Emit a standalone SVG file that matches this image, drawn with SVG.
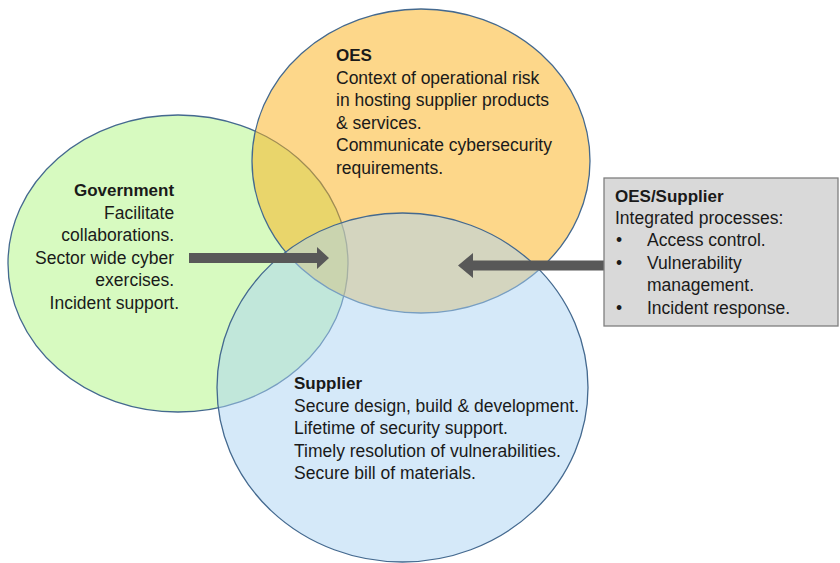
<svg xmlns="http://www.w3.org/2000/svg" width="840" height="563" viewBox="0 0 840 563">
  <style>
    .circle { stroke: #44698f; stroke-width: 1.3; fill-opacity: 0.5; }
    .txt { font-family: "Liberation Sans", Arial, sans-serif; font-size: 17.5px; fill: #1a1a1a; }
    .hd { font-weight: bold; font-size: 17px; }
    .arrow { fill: #585858; }
    .box { fill: #d9d9d9; stroke: #7f7f7f; stroke-width: 1.3; }
  </style>
  <rect width="840" height="563" fill="#ffffff"/>

  <!-- Government -->
  <g id="government">
    <ellipse class="circle" cx="178" cy="263.5" rx="170" ry="148.5" fill="#aff581"/>
    <text class="txt" text-anchor="end">
      <tspan class="hd" x="179" y="196">Government</tspan>
      <tspan x="179" y="218.6">Facilitate</tspan>
      <tspan x="179" y="241.2">collaborations.</tspan>
      <tspan x="179" y="263.8">Sector wide cyber</tspan>
      <tspan x="179" y="286.4">exercises.</tspan>
      <tspan x="179" y="309">Incident support.</tspan>
    </text>
  </g>

  <!-- OES -->
  <g id="oes">
    <ellipse class="circle" cx="421" cy="161" rx="169" ry="152" fill="#fbaf15"/>
    <text class="txt">
      <tspan class="hd" x="336" y="61">OES</tspan>
      <tspan x="336" y="83.5">Context of operational risk</tspan>
      <tspan x="336" y="106">in hosting supplier products</tspan>
      <tspan x="336" y="128.5">&amp; services.</tspan>
      <tspan x="336" y="151">Communicate cybersecurity</tspan>
      <tspan x="336" y="173.5">requirements.</tspan>
    </text>
  </g>

  <!-- Supplier -->
  <g id="supplier">
    <ellipse class="circle" cx="402.5" cy="387.5" rx="185.5" ry="174.5" fill="#abd3f3"/>
    <text class="txt">
      <tspan class="hd" x="294" y="389">Supplier</tspan>
      <tspan x="294" y="411.5">Secure design, build &amp; development.</tspan>
      <tspan x="294" y="434">Lifetime of security support.</tspan>
      <tspan x="294" y="456.5">Timely resolution of vulnerabilities.</tspan>
      <tspan x="294" y="479">Secure bill of materials.</tspan>
    </text>
  </g>

  <!-- Arrows pointing into the shared overlap -->
  <g id="connectors">
    <polygon class="arrow" points="189,253 317,253 317,247 329,258 317,269 317,263 189,263"/>
    <polygon class="arrow" points="606,260.5 473,260.5 473,253 458,265.5 473,278 473,270.5 606,270.5"/>
  </g>

  <!-- OES/Supplier -->
  <g id="oes-supplier">
    <rect class="box" x="604" y="178" width="234" height="148"/>
    <text class="txt">
      <tspan class="hd" x="615" y="202">OES/Supplier</tspan>
      <tspan x="615" y="224">Integrated processes:</tspan>
    </text>
    <text class="txt">
      <tspan x="616" y="246">•</tspan>
      <tspan x="616" y="268.5">•</tspan>
      <tspan x="616" y="313.5">•</tspan>
    </text>
    <text class="txt">
      <tspan x="647" y="246">Access control.</tspan>
      <tspan x="647" y="268.5">Vulnerability</tspan>
      <tspan x="647" y="291">management.</tspan>
      <tspan x="647" y="313.5">Incident response.</tspan>
    </text>
  </g>
</svg>
